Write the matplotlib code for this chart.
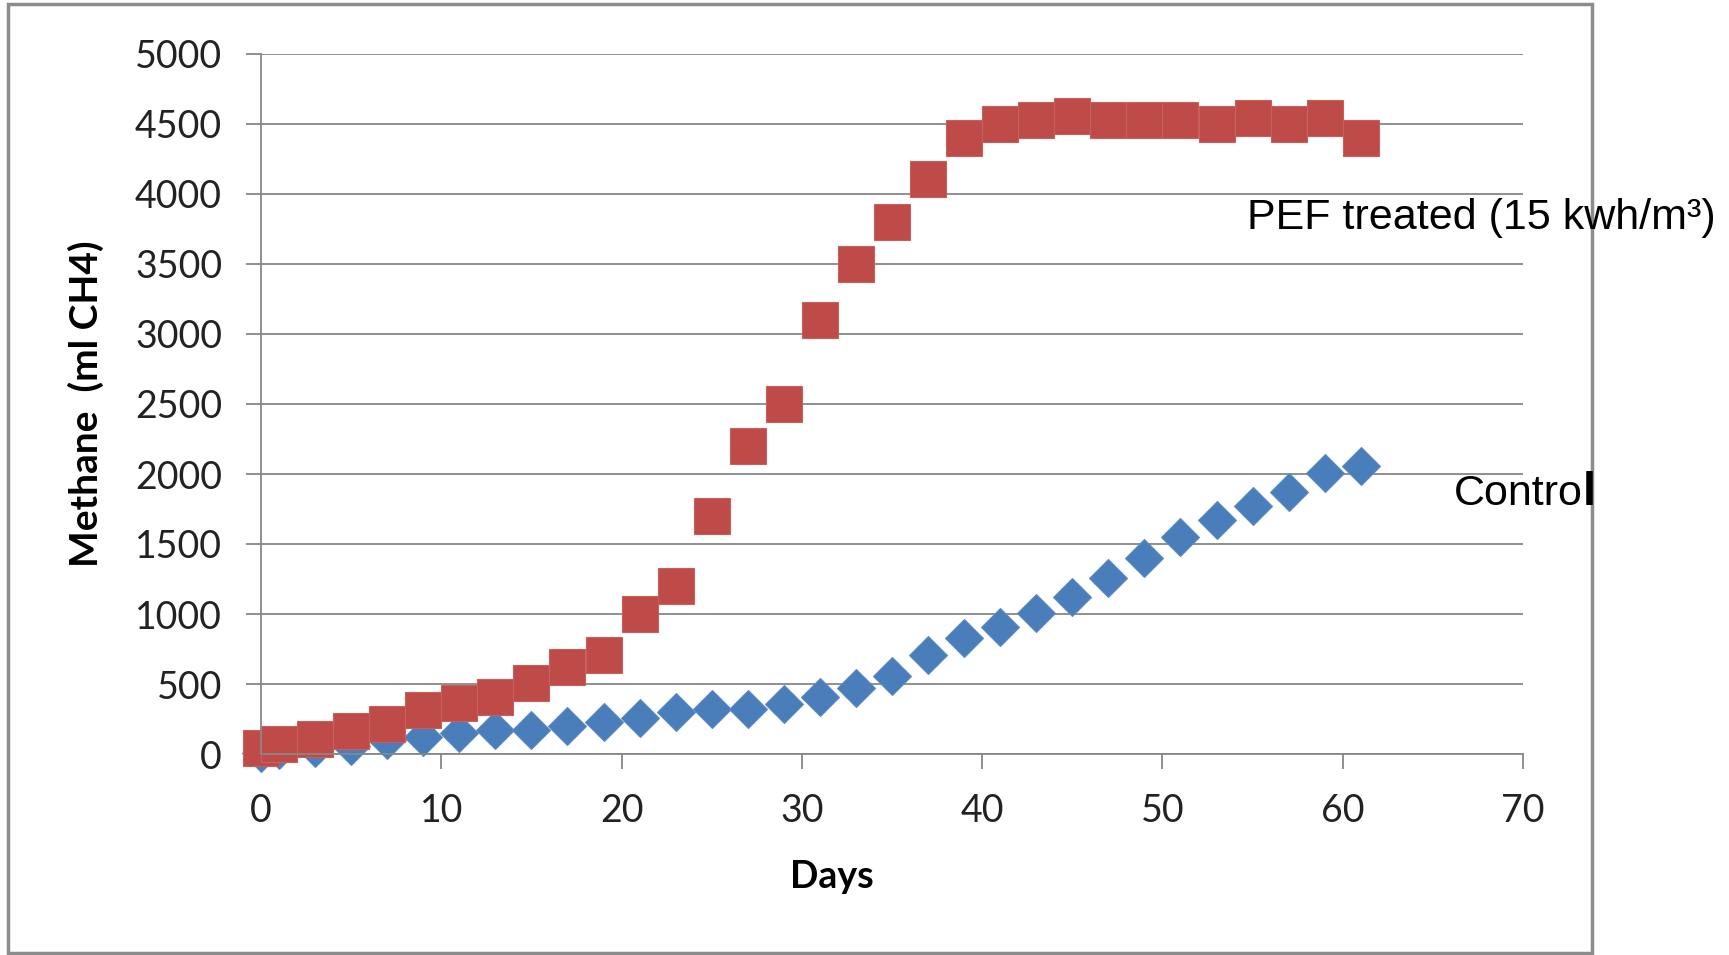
import matplotlib.pyplot as plt
from matplotlib.patches import Rectangle

# Данные
days = [0, 1, 3, 5, 7, 9, 11, 13, 15, 17, 19, 21, 23, 25, 27, 29, 31,
        33, 35, 37, 39, 41, 43, 45, 47, 49, 51, 53, 55, 57, 59, 61]
control = [10, 30, 40, 60, 100, 120, 150, 170, 170, 200, 230, 260, 300, 320,
           320, 355, 410, 470, 560, 710, 830, 910, 1010, 1120, 1260, 1400,
           1550, 1670, 1770, 1870, 2010, 2060]
pef = [40, 70, 107, 164, 214, 314, 364, 407, 507, 620, 707, 1000, 1200, 1700,
       2200, 2500, 3100, 3500, 3800, 4110, 4400, 4500, 4530, 4560, 4530, 4530,
       4530, 4500, 4540, 4500, 4540, 4400]
y_ticks = [0, 500, 1000, 1500, 2000, 2500, 3000, 3500, 4000, 4500, 5000]
x_ticks = [0, 10, 20, 30, 40, 50, 60, 70]

W, H = 1729, 955
fig = plt.figure(figsize=(W / 100, H / 100), dpi=100)
ax = fig.add_axes([261 / W, 1 - 754 / H, (1523 - 261) / W, 700 / H])

grid_c = '#878787'
ax.plot(days, control, linestyle='none', marker='D', markersize=19,
        color='#4A7EBB', markeredgecolor='#5B8AC4', markeredgewidth=0.8)
ax.plot(days, pef, linestyle='none', marker='s', markersize=25.5,
        color='#BE4B48', markeredgecolor='#C85F5C', markeredgewidth=0.8)

ax.set_xlim(0, 70)
ax.set_ylim(0, 5000)
ax.set_xticks(x_ticks)
ax.set_yticks(y_ticks)
ax.yaxis.grid(True, color=grid_c, linewidth=1.3)
ax.set_axisbelow(True)
for s in ['top', 'right']:
    ax.spines[s].set_visible(False)
for s in ['left', 'bottom']:
    ax.spines[s].set_color(grid_c)
    ax.spines[s].set_linewidth(1.3)
ax.tick_params(axis='both', direction='out', length=11, width=1.3, color=grid_c,
               labelsize=27, labelcolor='#222222')
ax.tick_params(axis='y', pad=17)
ax.tick_params(axis='x', pad=17)
for lab in ax.get_xticklabels() + ax.get_yticklabels():
    lab.set_family('Lato')
for m in ax.get_lines()[:2]:
    m.set_clip_on(False)

ax.set_ylabel('Methane  (ml CH4)', fontsize=28, fontweight='bold', family='Lato')
ax.yaxis.label.set_va('center')
ax.yaxis.set_label_coords(-0.1387, 0.5)
ax.set_xlabel('Days', fontsize=27, fontweight='bold', family='Lato')
ax.xaxis.set_label_coords(0.4525, -0.176)
ax.xaxis.label.set_va('center')

# Подписи серий
fig.text(1247 / W, 1 - 229 / H, 'PEF treated (15 kwh/m³)', fontsize=31,
         family='Liberation Sans', va='baseline', ha='left')
fig.text(1583 / W, 1 - 505 / H, 'Contro', fontsize=31,
         family='Liberation Sans', va='baseline', ha='right')
fig.text(1583 / W, 1 - 505 / H, 'l', fontsize=34, fontweight='bold',
         family='Liberation Sans', va='baseline', ha='left')

# Рамка вокруг диаграммы
fig.patches.append(Rectangle((8 / W, 1 - 953 / H), (1592 - 8) / W, (953 - 4) / H,
                             transform=fig.transFigure, fill=False,
                             edgecolor='#8C8C8C', linewidth=2.5))

fig.savefig('out.png', dpi=100)
